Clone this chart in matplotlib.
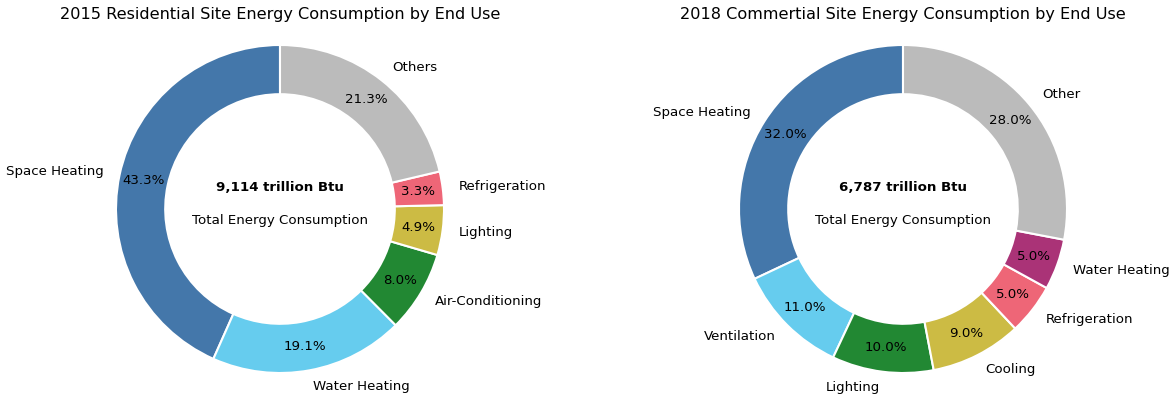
import matplotlib.pyplot as plt

# Paul Tol "bright" palette
blauw = '#4477AA'
lichtblauw = '#66CCEE'
groen = '#228833'
geel = '#CCBB44'
roze = '#EE6677'
paars = '#AA3377'
grijs = '#BBBBBB'

woning_labels = ['Space Heating', 'Water Heating', 'Air-Conditioning', 'Lighting', 'Refrigeration', 'Others']
woning_waardes = [43.3, 19.1, 8.0, 4.9, 3.3, 21.3]
woning_kleuren = [blauw, lichtblauw, groen, geel, roze, grijs]
woning_totaal = '9,114 trillion Btu'

bedrijf_labels = ['Space Heating', 'Ventilation', 'Lighting', 'Cooling', 'Refrigeration', 'Water Heating', 'Other']
bedrijf_waardes = [32.0, 11.0, 10.0, 9.0, 5.0, 5.0, 28.0]
bedrijf_kleuren = [blauw, lichtblauw, groen, geel, roze, paars, grijs]
bedrijf_totaal = '6,787 trillion Btu'

breedte, hoogte = 1170, 396
fig = plt.figure(figsize=(breedte / 100, hoogte / 100), dpi=100)


def teken_donut(midden_x, titel, labels, waardes, kleuren, totaal):
	# assen van 410 px voor het bereik -1.25..1.25 -> straal van ~164 px
	zijde = 410
	midden_y = hoogte - 209
	ax = fig.add_axes([(midden_x - zijde / 2) / breedte, (midden_y - zijde / 2) / hoogte,
	                   zijde / breedte, zijde / hoogte])
	ax.pie(waardes, labels=labels, colors=kleuren, startangle=90,
	       autopct='%1.1f%%', pctdistance=0.85, labeldistance=1.1,
	       wedgeprops=dict(width=0.3, edgecolor='white', linewidth=1.5),
	       textprops=dict(fontsize=9.6))
	ax.set_xlim(-1.25, 1.25)
	ax.set_ylim(-1.25, 1.25)
	ax.set_aspect('equal')
	ax.axis('off')

	ax.text(0, 0.13, totaal, ha='center', va='center', fontsize=9.6, fontweight='bold')
	ax.text(0, -0.07, 'Total Energy Consumption', ha='center', va='center', fontsize=9.6)

	fig.text(midden_x / breedte, 1 - 14 / hoogte, titel, ha='center', va='center', fontsize=11.6)


teken_donut(280, '2015 Residential Site Energy Consumption by End Use',
            woning_labels, woning_waardes, woning_kleuren, woning_totaal)
teken_donut(903, '2018 Commertial Site Energy Consumption by End Use',
            bedrijf_labels, bedrijf_waardes, bedrijf_kleuren, bedrijf_totaal)

plt.savefig('out.png', dpi=100)
